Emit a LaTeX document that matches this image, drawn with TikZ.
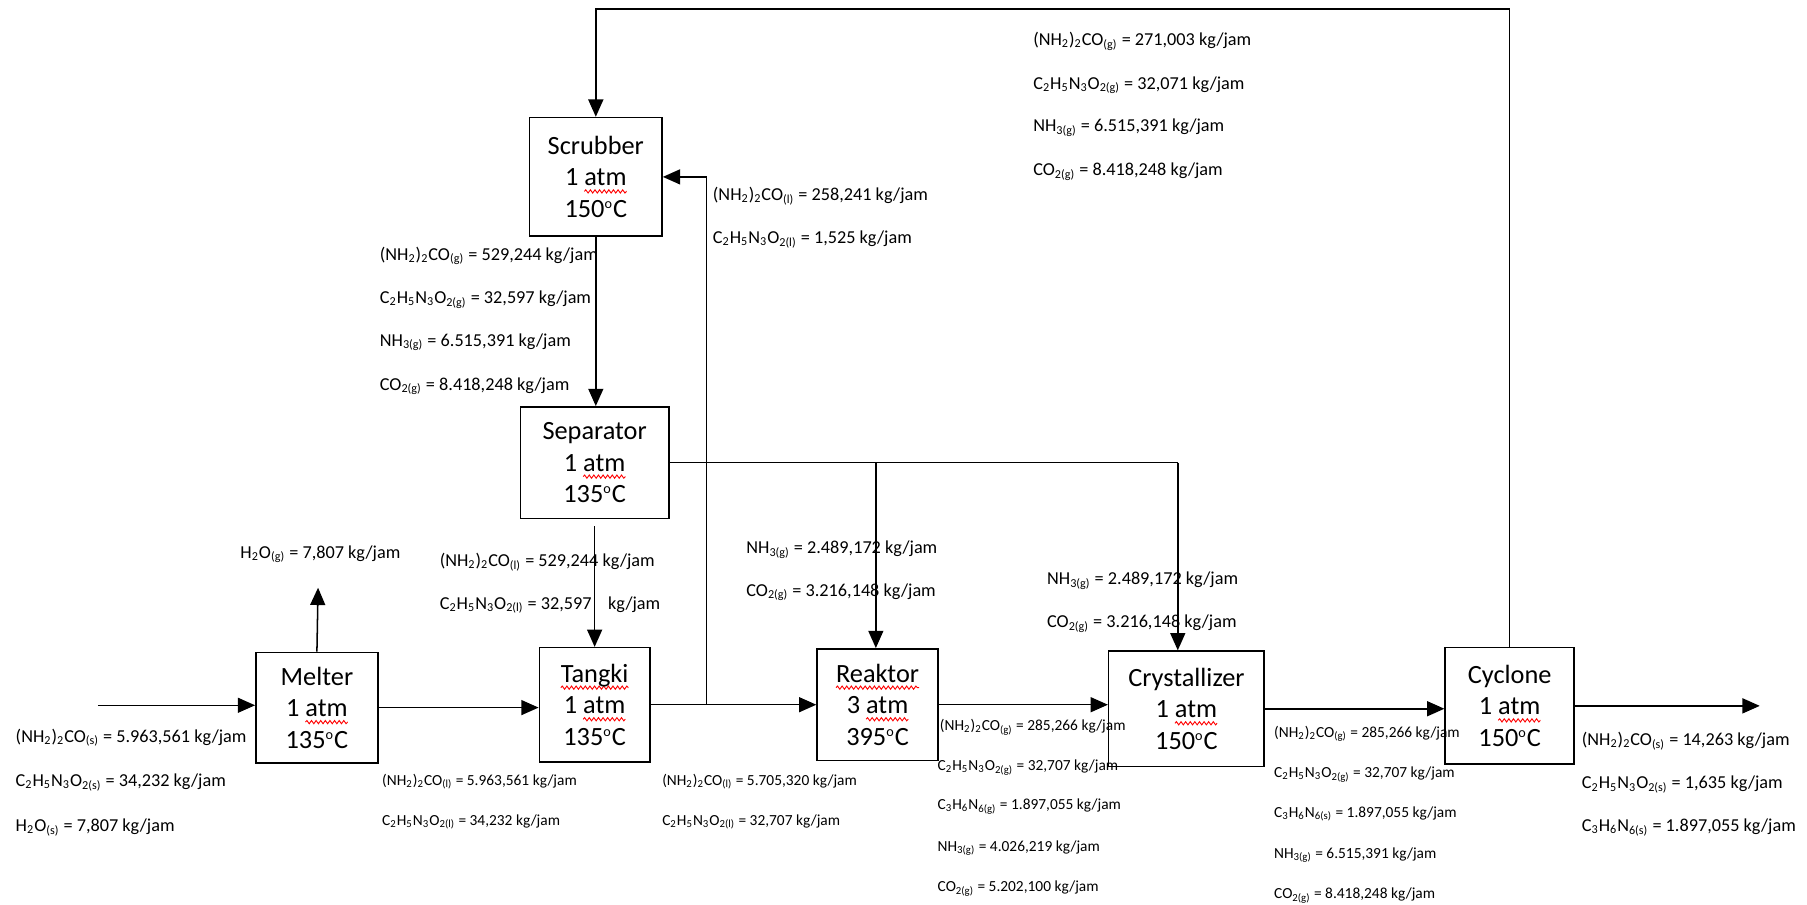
\documentclass[tikz,border=0pt]{standalone}
\usepackage{fontspec}
\setmainfont{Carlito}
\usetikzlibrary{arrows.meta,decorations.pathmorphing}
\newsavebox\sqbox
\newcommand\sqw[1]{\sbox\sqbox{#1}\rlap{\tikz[overlay,baseline=0pt]{\draw[red,line width=0.45pt,decorate,decoration={snake,amplitude=0.28mm,segment length=0.8mm}] (0pt,-0.95mm) -- (\wd\sqbox,-0.95mm);}}\usebox\sqbox}
\newcommand\urea[1]{(NH\textsubscript{2})\textsubscript{2}CO\textsubscript{(#1)}}
\newcommand\biuret[1]{C\textsubscript{2}H\textsubscript{5}N\textsubscript{3}O\textsubscript{2(#1)}}
\newcommand\amm[1]{NH\textsubscript{3(#1)}}
\newcommand\cod[1]{CO\textsubscript{2(#1)}}
\newcommand\mel[1]{C\textsubscript{3}H\textsubscript{6}N\textsubscript{6(#1)}}
\newcommand\wat[1]{H\textsubscript{2}O\textsubscript{(#1)}}
\newcommand\dg{\textsuperscript{\scriptsize o}C}
\begin{document}
\begin{tikzpicture}[x=0.2mm,y=-0.2mm,line width=0.75pt,
  box/.style={draw,line width=0.75pt,inner sep=0pt,align=center,font=\fontsize{13}{15.6}\selectfont},
  lbl/.style={anchor=west,inner sep=0pt,font=\fontsize{9}{11}\selectfont},
  lbs/.style={anchor=west,inner sep=0pt,font=\fontsize{7.6}{9}\selectfont},
  arr/.style={-{Triangle[length=3mm,width=2.6mm]}}]
\useasboundingbox (0,0) rectangle (1568,785);

% boxes
\node[box,minimum width=23mm,minimum height=20.6mm] (scrubber) at (517,153.5) {Scrubber\\1 \sqw{atm}\\150\dg};
\node[box,minimum width=25.8mm,minimum height=19.4mm] (separator) at (516,401.5) {Separator\\1 \sqw{atm}\\135\dg};
\node[box,minimum width=21.2mm,minimum height=19.2mm] (melter) at (275,614) {Melter\\1 \sqw{atm}\\135\dg};
\node[box,minimum width=19.2mm,minimum height=19.8mm] (tangki) at (516,611.5) {\sqw{Tangki}\\1 \sqw{atm}\\135\dg};
\node[box,minimum width=21mm,minimum height=19.4mm] (reaktor) at (761.5,611.5) {\sqw{Reaktor}\\3 \sqw{atm}\\395\dg};
\node[box,minimum width=27mm,minimum height=20mm] (crystallizer) at (1029.5,615) {Crystallizer\\1 \sqw{atm}\\150\dg};
\node[box,minimum width=22.4mm,minimum height=20.2mm] (cyclone) at (1310,612.5) {Cyclone\\1 \sqw{atm}\\150\dg};

% helper coordinates
\coordinate (in) at (85,612);
\coordinate (vap) at (276,510);
\coordinate (j1) at (613,612);
\coordinate (rj) at (760,400);
\coordinate (cj) at (1022,400);
\coordinate (out) at (1527,615);
\coordinate (top) at (1309,8);

% connectors
\draw[arr] (in) -- (in -| melter.west);
\draw[arr] (melter.north) -- (vap);
\draw[arr] (melter.east) -- (melter.east -| tangki.west);
\draw[arr] (tangki.east) -- (tangki.east -| reaktor.west);
\draw[arr] (tangki.east -| j1) -- (j1 |- scrubber.east) -- (scrubber.east);
\draw[arr] (scrubber.south) -- (scrubber.south |- separator.north);
\draw[arr,shorten <=1.2mm] (separator.south) -- (tangki.north);
\draw (separator.east) -- (separator.east -| cj);
\draw[arr] (separator.east -| cj) -- (cj |- crystallizer.north);
\draw[arr] (separator.east -| rj) -- (rj |- reaktor.north);
\draw[arr] (reaktor.east) -- (reaktor.east -| crystallizer.west);
\draw[arr] (crystallizer.east) -- (crystallizer.east -| cyclone.west);
\draw[arr] (cyclone.east) -- (cyclone.east -| out);
\draw[arr] (cyclone.north) -- (cyclone.north |- top) -- (scrubber.north |- top) -- (scrubber.north);

% labels: top recycle
\node[lbl] (t1) at (896,36) {\urea{g} = 271,003 kg/jam};
\node[lbl] (t2) at (896,74) {\biuret{g} = 32,071 kg/jam};
\node[lbl] (t3) at (896,111) {\amm{g} = 6.515,391 kg/jam};
\node[lbl] (t4) at (896,149) {\cod{g} = 8.418,248 kg/jam};
% scrubber liquid in
\node[lbl] (r1) at (618,170) {\urea{l} = 258,241 kg/jam};
\node[lbl] (r2) at (618,208) {\biuret{l} = 1,525 kg/jam};
% scrubber out
\node[lbl] (s1) at (329,222) {\urea{g} = 529,244 kg/jam};
\node[lbl] (s2) at (329,260) {\biuret{g} = 32,597 kg/jam};
\node[lbl] (s3) at (329,297) {\amm{g} = 6.515,391 kg/jam};
\node[lbl] (s4) at (329,335) {\cod{g} = 8.418,248 kg/jam};
% melter vapour
\node[lbl] (v1) at (208,481) {\wat{g} = 7,807 kg/jam};
% separator to tangki
\node[lbl] (p1) at (381,488) {\urea{l} = 529,244 kg/jam};
\node[lbl] (p2) at (381,525) {\biuret{l} = 32,597\hspace{0.9em}kg/jam};
% separator gas to reaktor
\node[lbl] (g1) at (647,477) {\amm{g} = 2.489,172 kg/jam};
\node[lbl] (g2) at (647,514) {\cod{g} = 3.216,148 kg/jam};
% separator gas to crystallizer
\node[lbl] (h1) at (908,504) {\amm{g} = 2.489,172 kg/jam};
\node[lbl] (h2) at (908,541) {\cod{g} = 3.216,148 kg/jam};
% feed
\node[lbl] (f1) at (13,640) {\urea{s} = 5.963,561 kg/jam};
\node[lbl] (f2) at (13,679) {\biuret{s} = 34,232 kg/jam};
\node[lbl] (f3) at (13,718) {\wat{s} = 7,807 kg/jam};
% melter to tangki
\node[lbs] (m1) at (331,678) {\urea{l} = 5.963,561 kg/jam};
\node[lbs] (m2) at (331,713) {\biuret{l} = 34,232 kg/jam};
% tangki to reaktor
\node[lbs] (k1) at (574,678) {\urea{l} = 5.705,320 kg/jam};
\node[lbs] (k2) at (574,713) {\biuret{l} = 32,707 kg/jam};
% reaktor to crystallizer
\node[lbs] (a1) at (815,631) {\urea{g} = 285,266 kg/jam};
\node[lbs] (a2) at (813,666) {\biuret{g} = 32,707 kg/jam};
\node[lbs] (a3) at (813,700) {\mel{g} = 1.897,055 kg/jam};
\node[lbs] (a4) at (813,736) {\amm{g} = 4.026,219 kg/jam};
\node[lbs] (a5) at (813,771) {\cod{g} = 5.202,100 kg/jam};
% crystallizer to cyclone
\node[lbs] (c1) at (1105,637) {\urea{g} = 285,266 kg/jam};
\node[lbs] (c2) at (1105,672) {\biuret{g} = 32,707 kg/jam};
\node[lbs] (c3) at (1105,706) {\mel{s} = 1.897,055 kg/jam};
\node[lbs] (c4) at (1105,742) {\amm{g} = 6.515,391 kg/jam};
\node[lbs] (c5) at (1105,777) {\cod{g} = 8.418,248 kg/jam};
% product
\node[lbl] (o1) at (1372,643) {\urea{s} = 14,263 kg/jam};
\node[lbl] (o2) at (1372,681) {\biuret{s} = 1,635 kg/jam};
\node[lbl] (o3) at (1372,718) {\mel{s} = 1.897,055 kg/jam};
\end{tikzpicture}
\end{document}
